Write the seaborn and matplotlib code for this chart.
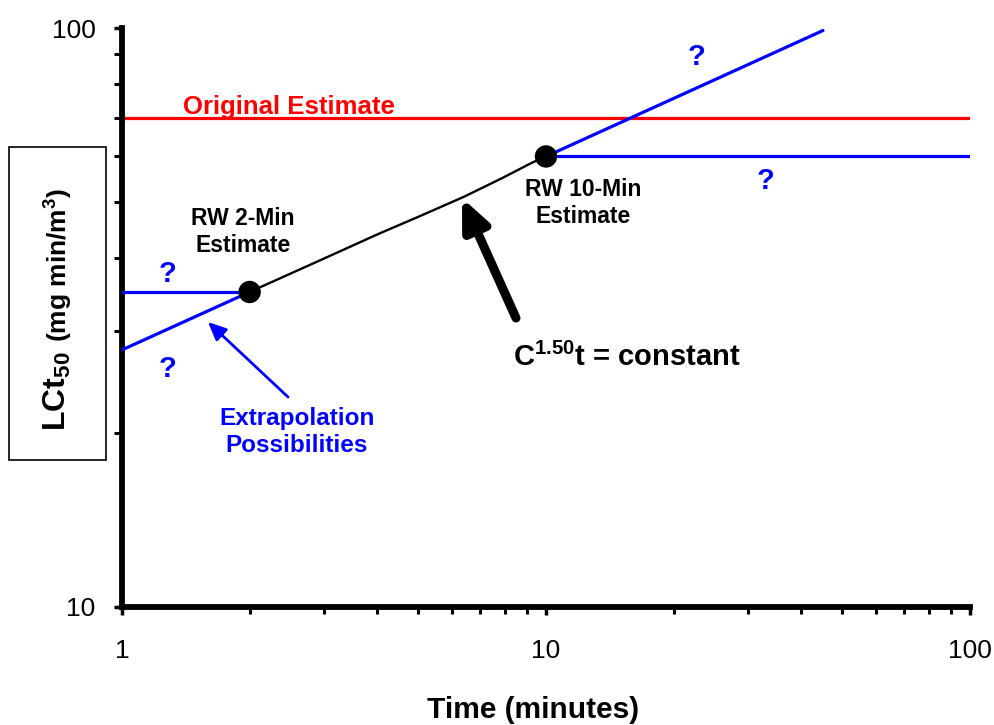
import matplotlib
matplotlib.use("Agg")
import matplotlib.pyplot as plt
import seaborn as sns
import pandas as pd
from matplotlib.ticker import LogLocator, NullFormatter, FixedLocator, FixedFormatter
from matplotlib.patches import Rectangle

# ---- data ----
estimate_times = [2, 10]
estimate_lct = [35, 60]
original_t = [1, 100]
original_lct = [70, 70]
power_law_t = [2, 3, 4, 5, 6.4, 7.9, 8.6, 9.3, 10]
power_law_lct = [35, 40, 44, 47.2, 51.1, 55.1, 56.9, 58.6, 60]
low_flat_t = [1, 2]
low_flat_lct = [35, 35]
low_slope_t = [1, 2]
low_slope_lct = [27.8, 35]
high_flat_t = [10, 100]
high_flat_lct = [60, 60]
high_slope_t = [10, 45]
high_slope_lct = [60, 99]
x_ticks = [1, 10, 100]
x_tick_labels = ["1", "10", "100"]
y_ticks = [10, 100]
y_tick_labels = ["10", "100"]

sns.set_theme(style="ticks")
plt.rcParams["font.family"] = ["Liberation Sans", "DejaVu Sans"]
plt.rcParams["mathtext.fontset"] = "custom"
plt.rcParams["mathtext.rm"] = "Liberation Sans"
plt.rcParams["mathtext.bf"] = "Liberation Sans:bold"
plt.rcParams["mathtext.it"] = "Liberation Sans:italic"

W, H = 995, 725
fig = plt.figure(figsize=(W / 100, H / 100), dpi=100)
fig.patch.set_facecolor("white")
ax = fig.add_axes([122 / W, 1 - 607 / H, (970 - 122) / W, (607 - 28) / H])
ax.set_facecolor("white")


def px(x, y):
    return (x / W, 1 - y / H)


BLUE = "#0000FF"
RED = "#FF0000"

sns.lineplot(x=original_t, y=original_lct, ax=ax, color=RED, lw=2.3, zorder=2)
sns.lineplot(x=low_flat_t, y=low_flat_lct, ax=ax, color=BLUE, lw=2.3, zorder=3)
sns.lineplot(x=low_slope_t, y=low_slope_lct, ax=ax, color=BLUE, lw=2.3, zorder=3)
sns.lineplot(x=high_flat_t, y=high_flat_lct, ax=ax, color=BLUE, lw=2.3, zorder=3)
sns.lineplot(x=high_slope_t, y=high_slope_lct, ax=ax, color=BLUE, lw=2.3, zorder=3)
sns.lineplot(x=power_law_t, y=power_law_lct, ax=ax, color="black", lw=1.7, zorder=4)
sns.scatterplot(x=estimate_times, y=estimate_lct, ax=ax, color="black", s=260,
                edgecolor="none", zorder=6, legend=False)

ax.set_xscale("log")
ax.set_yscale("log")
ax.set_xlim(1, 100)
ax.set_ylim(10, 100)

ax.xaxis.set_major_locator(FixedLocator(x_ticks))
ax.xaxis.set_major_formatter(FixedFormatter(x_tick_labels))
ax.yaxis.set_major_locator(FixedLocator(y_ticks))
ax.yaxis.set_major_formatter(FixedFormatter(y_tick_labels))
ax.xaxis.set_minor_locator(LogLocator(base=10, subs=range(2, 10)))
ax.yaxis.set_minor_locator(LogLocator(base=10, subs=range(2, 10)))
ax.xaxis.set_minor_formatter(NullFormatter())
ax.yaxis.set_minor_formatter(NullFormatter())

for s in ["top", "right"]:
    ax.spines[s].set_visible(False)
for s in ["left", "bottom"]:
    ax.spines[s].set_linewidth(4.2)
    ax.spines[s].set_color("black")

ax.tick_params(axis="both", which="major", direction="out", length=6, width=2.5,
               color="black", labelsize=19, labelcolor="black")
ax.tick_params(axis="x", which="major", pad=17)
ax.tick_params(axis="y", which="major", pad=13)
ax.tick_params(axis="x", which="minor", direction="out", length=5, width=2.2, color="black")
ax.tick_params(axis="y", which="minor", direction="out", length=6, width=2.2, color="black")
ax.grid(False)
ax.set_xlabel("")
ax.set_ylabel("")

# ---- annotations ----
fig.text(*px(289, 114), "Original Estimate", color=RED, fontsize=18.5,
         fontweight="bold", ha="center", va="baseline")
fig.text(*px(243, 232), "RW 2-Min\nEstimate", color="black", fontsize=16.5,
         fontweight="bold", ha="center", va="center", linespacing=1.25)
fig.text(*px(583, 203), "RW 10-Min\nEstimate", color="black", fontsize=16.5,
         fontweight="bold", ha="center", va="center", linespacing=1.25)
fig.text(*px(297, 432), "Extrapolation\nPossibilities", color=BLUE, fontsize=17.5,
         fontweight="bold", ha="center", va="center", linespacing=1.2)
for (qx, qy) in [(697, 57), (766, 181), (168, 274), (168, 369)]:
    fig.text(*px(qx, qy), "?", color=BLUE, fontsize=21, fontweight="bold",
             ha="center", va="center")
fig.text(*px(627, 357), r"C$^{\mathbf{1.50}}$t = constant", color="black",
         fontsize=21, fontweight="bold", ha="center", va="center")

ax.annotate("", xy=px(208, 322), xytext=px(288, 397), xycoords="figure fraction",
            textcoords="figure fraction",
            arrowprops=dict(arrowstyle="-|>,head_length=1.1,head_width=0.5",
                            mutation_scale=10, color=BLUE, lw=2, shrinkA=0, shrinkB=0))
ax.annotate("", xy=px(462, 198), xytext=px(516, 318), xycoords="figure fraction",
            textcoords="figure fraction",
            arrowprops=dict(arrowstyle="-|>,head_length=0.9,head_width=0.4",
                            mutation_scale=20, color="black", lw=6.5,
                            shrinkA=0, shrinkB=0, capstyle="round"))

# x label
fig.text(*px(533, 718), "Time (minutes)", fontsize=21.5, fontweight="bold",
         ha="center", va="baseline", color="black")

# y label in a box
fig.patches.append(Rectangle(px(9, 460), 97 / W, (460 - 147) / H, transform=fig.transFigure,
                             fill=False, edgecolor="black", lw=1.2))
fig.text(*px(57, 431), r"LCt$_{\mathbf{50}}$", fontsize=23, fontweight="bold",
         rotation=90, ha="center", va="bottom", color="black")
fig.text(*px(59, 342), r"(mg min/m$^{\mathbf{3}}$)", fontsize=19, fontweight="bold",
         rotation=90, ha="center", va="bottom", color="black")

fig.savefig("out.png", dpi=100, facecolor="white")
